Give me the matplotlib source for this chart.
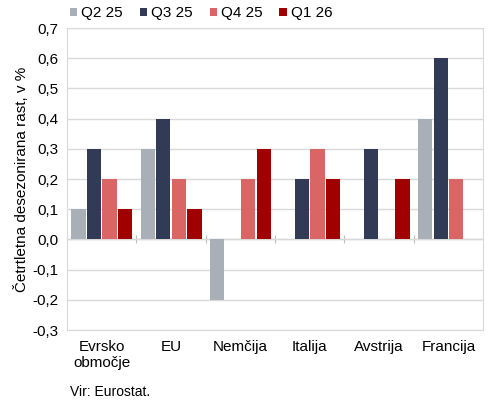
import numpy as np
import matplotlib.pyplot as plt
from matplotlib.ticker import FuncFormatter, MultipleLocator

plt.rcParams['font.family'] = ['Liberation Sans', 'DejaVu Sans']

categories = ["Evrsko\nobmočje", "EU", "Nemčija", "Italija", "Avstrija", "Francija"]
series_names = ["Q2 25", "Q3 25", "Q4 25", "Q1 26"]
q2_25 = [0.1, 0.3, -0.2, 0.0, 0.0, 0.4]
q3_25 = [0.3, 0.4, 0.0, 0.2, 0.3, 0.6]
q4_25 = [0.2, 0.2, 0.2, 0.3, 0.0, 0.2]
q1_26 = [0.1, 0.1, 0.3, 0.2, 0.2, 0.0]
colors = ["#A8AFB6", "#323B55", "#D96565", "#A10000"]

fig = plt.figure(figsize=(4.9, 4.01), dpi=100)
ax = fig.add_axes([0.137, 0.177, 0.849, 0.753])

x = np.arange(len(categories))
w = 0.225
for i, (vals, name, c) in enumerate(zip([q2_25, q3_25, q4_25, q1_26], series_names, colors)):
    ax.bar(x + (i - 1.5) * w, vals, width=w - 0.02, color=c, label=name, zorder=3)

ymin, ymax = -0.3, 0.7
ax.set_ylim(ymin, ymax)
ax.set_xlim(-0.5, len(categories) - 0.5)
ax.yaxis.set_major_locator(MultipleLocator(0.1))
ax.yaxis.set_major_formatter(FuncFormatter(lambda v, p: f"{v:.1f}".replace(".", ",").replace("-0,0", "0,0")))
ax.grid(axis='y', color='#D9D9D9', linewidth=1, zorder=0)
for s in ax.spines.values():
    s.set_color('#D9D9D9')
ax.set_xticks(x)
ax.set_xticklabels(categories, fontsize=11)
ax.tick_params(axis='x', length=0, pad=7)
ax.tick_params(axis='y', length=0, labelsize=11, pad=6)

# zero line with separators between categories
sec = ax.secondary_xaxis((0 - ymin) / (ymax - ymin))
sec.set_xticks(np.arange(len(categories) - 1) + 0.5)
sec.set_xticklabels([])
sec.tick_params(axis='x', direction='inout', length=6, color='#BFBFBF')
sec.spines['bottom'].set_color('#808080')
sec.spines['bottom'].set_zorder(4)

ax.set_ylabel("Četrtletna desezonirana rast, v %", fontsize=11, labelpad=3)

ax.legend(loc='lower left', bbox_to_anchor=(-0.012, 1.0), ncol=4, frameon=False,
          fontsize=11, handlelength=0.5, handleheight=0.5, handletextpad=0.25,
          columnspacing=1.1, borderaxespad=0.1)

fig.text(0.143, 0.012, "Vir: Eurostat.", fontsize=10)

fig.savefig("out.png", dpi=100)
